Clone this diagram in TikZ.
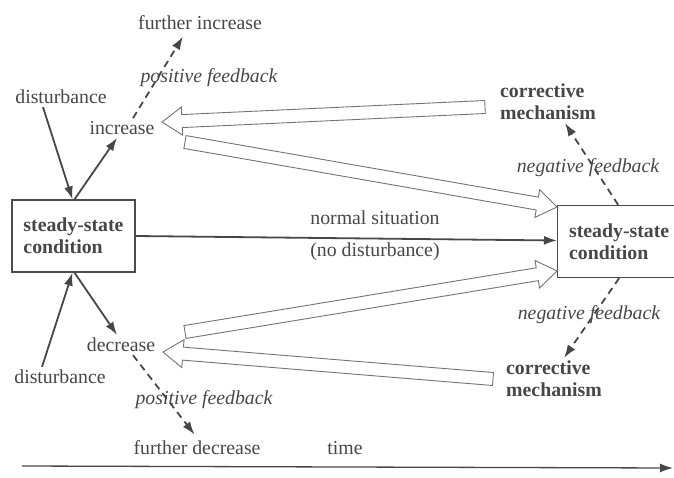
\documentclass[tikz,border=0pt]{standalone}
\usepackage{fontspec}
\setmainfont{Liberation Serif}
\usetikzlibrary{arrows.meta, calc, positioning}

% open (outlined) arrow from #1 to #2
\newcommand{\hollowarrow}[2]{%
  \coordinate (tipbase) at ($(#2)!20pt!(#1)$);
  \draw[hollow] ($(#1)!6.5pt!90:(#2)$) -- ($(tipbase)!6.5pt!90:(#2)$)
    -- ($(tipbase)!14pt!90:(#2)$) -- (#2)
    -- ($(tipbase)!14pt!-90:(#2)$) -- ($(tipbase)!6.5pt!-90:(#2)$)
    -- ($(#1)!6.5pt!-90:(#2)$) -- cycle;
}

\begin{document}
\begin{tikzpicture}[
    x=1pt, y=-1pt,
    lbl/.style={text=black!72, inner sep=3pt, font=\fontsize{19.8}{22}\selectfont},
    fb/.style={lbl, font=\fontsize{19.8}{22}\selectfont\itshape},
    bold/.style={lbl, align=left, font=\fontsize{19.8}{22}\selectfont\bfseries},
    statebox/.style={bold, rectangle, draw=black!70, line width=1.3pt, minimum width=123pt, minimum height=72pt},
    arr/.style={-{Latex[length=13pt,width=9pt]}, line width=1.8pt, draw=black!72},
    dasharr/.style={arr, dash pattern=on 7pt off 5pt},
    hollow/.style={draw=black!55, line width=0.9pt, line join=miter}
]
\useasboundingbox (0,0) rectangle (674,477);

% the two steady states
\node[statebox] (ssL) at (73.5,236) {steady-state\\condition};
\node[statebox, anchor=west] (ssR) at (557,241.5) {steady-state\\condition};

\node[lbl] (normal) at (375,218) {normal situation};
\node[lbl] (nodist) at (375,252) {(no disturbance)};

% upper branch
\node[lbl] (distT) at (61,97) {disturbance};
\node[lbl] (inc) at (122,128) {increase};
\node[lbl] (finc) at (200,23) {further increase};
\node[fb] (pfT) at (209,78) {positive feedback};
\node[bold, anchor=west] (corrT) at (497,102) {corrective\\mechanism};
\node[fb] (nfT) at (588,168) {negative feedback};

% lower branch
\node[lbl] (distB) at (60,377) {disturbance};
\node[lbl] (dec) at (121,345) {decrease};
\node[lbl] (fdec) at (197,448) {further decrease};
\node[fb] (pfB) at (204,400) {positive feedback};
\node[bold, anchor=west] (corrB) at (503,379) {corrective\\mechanism};
\node[fb] (nfB) at (589,315) {negative feedback};

\node[lbl] (time) at (345,448) {time};

% solid arrows
\draw[arr] ([xshift=-18pt]distT.south) -- ([xshift=-1pt]ssL.north);
\draw[arr] ([xshift=1pt]ssL.north) -- ([xshift=-5pt]inc.south);
\draw[arr] ([xshift=-18pt]distB.north) -- ([xshift=-1pt]ssL.south);
\draw[arr] ([xshift=1pt]ssL.south) -- ([xshift=-4pt]dec.north);
\draw[arr] (ssL.east) -- ([yshift=1pt]ssR.west);

% feedback arrows
\draw[dasharr, shorten >=4pt] ([xshift=11pt]inc.north) -- ([xshift=-15pt]finc.south);
\draw[dasharr, shorten >=4pt] ([xshift=12pt]dec.south) -- (fdec.north);
\draw[dasharr] ([xshift=-1pt]ssR.north) -- ([xshift=17pt]corrT.south);
\draw[dasharr] (ssR.south) -- ([xshift=10pt]corrB.north);

% open arrows
\coordinate (fromCorrT) at (485,107);
\coordinate (toInc) at (162,122);
\coordinate (fromInc) at (185,142);
\coordinate (toSsTop) at (557,207);
\coordinate (fromDec) at (185,332);
\coordinate (toSsBot) at (557,271);
\coordinate (fromCorrB) at (493,379);
\coordinate (toDec) at (163,352);
\hollowarrow{fromCorrT}{toInc}
\hollowarrow{fromInc}{toSsTop}
\hollowarrow{fromDec}{toSsBot}
\hollowarrow{fromCorrB}{toDec}

% time axis
\coordinate (t0) at (22,466);
\coordinate (t1) at (673,468);
\draw[arr, line width=1.3pt] (t0) -- (t1);

\end{tikzpicture}
\end{document}
